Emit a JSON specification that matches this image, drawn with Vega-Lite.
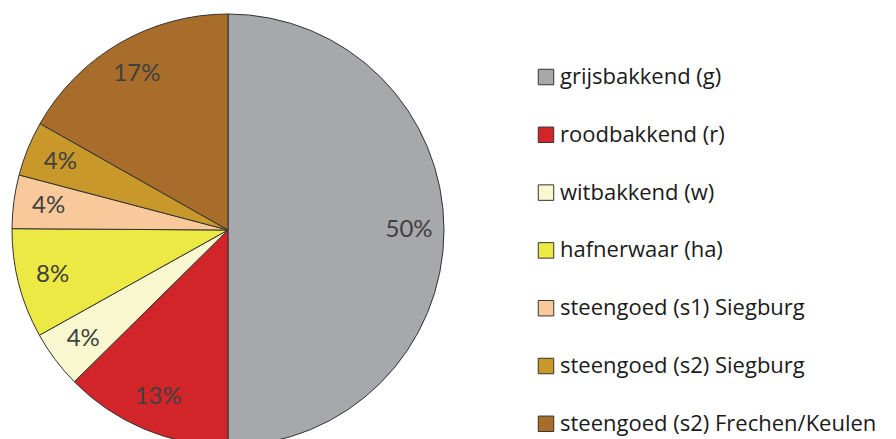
{
  "$schema": "https://vega.github.io/schema/vega-lite/v6.json",
  "width": 456,
  "height": 460,
  "autosize": {"type": "pad"},
  "padding": 0,
  "background": "white",
  "data": {
    "values": [
      {"category": "grijsbakkend (g)", "pct": 0.500, "order": 1},
      {"category": "roodbakkend (r)", "pct": 0.126, "order": 2},
      {"category": "witbakkend (w)", "pct": 0.043, "order": 3},
      {"category": "hafnerwaar (ha)", "pct": 0.082, "order": 4},
      {"category": "steengoed (s1) Siegburg", "pct": 0.040, "order": 5},
      {"category": "steengoed (s2) Siegburg", "pct": 0.041, "order": 6},
      {"category": "steengoed (s2) Frechen/Keulen", "pct": 0.168, "order": 7}
    ]
  },
  "encoding": {
    "theta": {"field": "pct", "type": "quantitative", "stack": true},
    "order": {"field": "order", "type": "quantitative"}
  },
  "layer": [
    {
      "mark": {"type": "arc", "outerRadius": 216, "stroke": "#333333", "strokeWidth": 1},
      "encoding": {
        "color": {
          "field": "category",
          "type": "nominal",
          "sort": null,
          "scale": {
            "domain": ["grijsbakkend (g)", "roodbakkend (r)", "witbakkend (w)", "hafnerwaar (ha)", "steengoed (s1) Siegburg", "steengoed (s2) Siegburg", "steengoed (s2) Frechen/Keulen"],
            "range": ["#A7A8AB", "#D2252A", "#F8F7CF", "#ECE844", "#F9C99C", "#C8982B", "#A86D2B"]
          },
          "legend": {
            "title": null,
            "orient": "none",
            "legendX": 535,
            "legendY": 66,
            "symbolType": "square",
            "symbolSize": 240,
            "symbolStrokeColor": "#333333",
            "symbolStrokeWidth": 1,
            "labelFont": "Open Sans",
            "labelFontSize": 22,
            "labelColor": "#1a1a1a",
            "labelOffset": 3,
            "rowPadding": 35.8,
            "labelLimit": 400
          }
        }
      }
    },
    {
      "mark": {"type": "text", "radius": 181, "font": "Lato", "fontSize": 24, "color": "#404040"},
      "encoding": {
        "text": {"field": "pct", "type": "quantitative", "format": ".0%"}
      }
    }
  ],
  "config": {"view": {"stroke": null}}
}
